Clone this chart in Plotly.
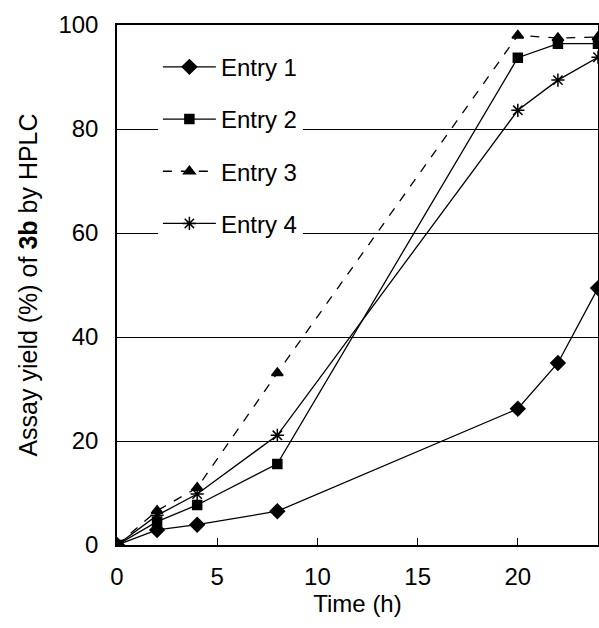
import plotly.graph_objects as go

time_h = [0, 2, 4, 8, 20, 22, 24]
entry1 = [0, 2.9, 3.9, 6.5, 26.2, 35.0, 49.4]
entry2 = [0, 4.5, 7.7, 15.6, 93.7, 96.4, 96.4]
entry3 = [0, 6.6, 11.0, 33.1, 98.0, 97.5, 97.7]
entry4 = [0, 5.7, 9.8, 21.1, 83.6, 89.4, 93.8]
names = ["Entry 1", "Entry 2", "Entry 3", "Entry 4"]
series = [entry1, entry2, entry3, entry4]
x_ticks = [0, 5, 10, 15, 20]
y_ticks = [0, 20, 40, 60, 80, 100]

symbols = ["diamond", "square", "triangle-up", "asterisk-open"]
sizes = [11, 9, 10, 11]
dashes = ["solid", "solid", "dash", "solid"]

fig = go.Figure()
for i, (nm, ys) in enumerate(zip(names, series)):
    fig.add_trace(go.Scatter(
        x=time_h, y=ys, name=nm, mode="lines+markers",
        legendgroup=f"g{i}",
        line=dict(color="black", width=1.3, dash=dashes[i]),
        marker=dict(symbol=symbols[i], size=sizes[i], color="black",
                    line=dict(color="black", width=1.5)),
    ))

font = "Liberation Sans, Arial, sans-serif"
fig.update_layout(
    width=599, height=628,
    margin=dict(l=117, r=1, t=25, b=83, autoexpand=False),
    paper_bgcolor="white", plot_bgcolor="white",
    font=dict(family=font, size=24, color="black"),
    showlegend=True,
    legend=dict(x=0.085, y=0.962, xanchor="left", yanchor="top",
                bgcolor="white", borderwidth=0, tracegroupgap=18,
                itemwidth=53,
                traceorder="grouped", font=dict(size=24)),
    xaxis=dict(range=[0, 24], tickvals=x_ticks, ticks="inside", ticklen=7,
               tickcolor="black", showgrid=False, zeroline=False,
               showline=True, linecolor="black", linewidth=1.5, mirror=True,
               ticklabelstandoff=9,
               title=dict(text="Time (h)", standoff=1, font=dict(size=24))),
    yaxis=dict(range=[0, 100], tickvals=y_ticks, ticks="", showgrid=True,
               gridcolor="black", gridwidth=1, zeroline=False,
               showline=True, linecolor="black", linewidth=1.5, mirror=True,
               ticklabelstandoff=12,
               title=dict(text="Assay yield (%) of <b>3b</b> by HPLC", standoff=14,
                          font=dict(size=25))),
)

fig.write_html(
    "out.html",
    config={"displayModeBar": False},
    post_script="document.body.style.margin='0';document.body.style.overflow='hidden';",
)
